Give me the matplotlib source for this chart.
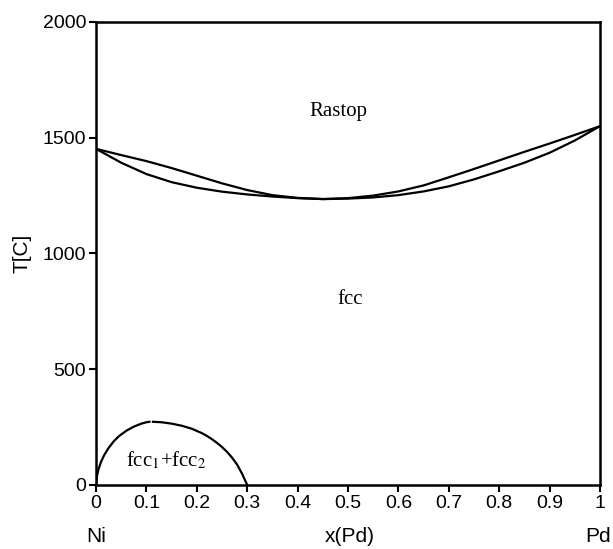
import matplotlib.pyplot as plt
import numpy as np

# phase boundaries
x_liq = [0, 0.05, 0.1, 0.15, 0.2, 0.25, 0.3, 0.35, 0.4, 0.45, 0.5,
         0.55, 0.6, 0.65, 0.7, 0.75, 0.8, 0.85, 0.9, 0.95, 1.0]
t_liq = [1452, 1425, 1399, 1369, 1336, 1303, 1274, 1252, 1240, 1235, 1239,
         1250, 1268, 1294, 1329, 1365, 1402, 1439, 1475, 1512, 1550]

x_sol = [0, 0.05, 0.1, 0.15, 0.2, 0.25, 0.3, 0.35, 0.4, 0.45, 0.5,
         0.55, 0.6, 0.65, 0.7, 0.75, 0.8, 0.85, 0.9, 0.95, 1.0]
t_sol = [1452, 1392, 1343, 1308, 1284, 1267, 1255, 1246, 1239, 1235, 1237,
         1242, 1252, 1268, 1290, 1320, 1355, 1392, 1435, 1488, 1550]

# miscibility gap, drawn in two halves
x_gap1 = [0, 0.002, 0.005, 0.01, 0.016, 0.025, 0.035, 0.045, 0.06, 0.075, 0.09, 0.1, 0.106]
t_gap1 = [0, 40, 68, 100, 128, 160, 188, 210, 234, 252, 265, 271, 273]
x_gap2 = [0.113, 0.13, 0.15, 0.17, 0.19, 0.21, 0.22, 0.23, 0.24, 0.25, 0.26,
          0.27, 0.28, 0.29, 0.3]
t_gap2 = [273, 271, 265, 256, 243, 224, 212, 198, 182, 164, 143,
          118, 88, 48, 0]

xticks = [0, 0.1, 0.2, 0.3, 0.4, 0.5, 0.6, 0.7, 0.8, 0.9, 1]
xticklabels = ['0', '0.1', '0.2', '0.3', '0.4', '0.5', '0.6', '0.7', '0.8', '0.9', '1']
yticks = [0, 500, 1000, 1500, 2000]

plt.rcParams['font.family'] = 'Liberation Sans'

fig = plt.figure(figsize=(6.13, 5.49), dpi=100)
ax = fig.add_axes([0.1566, 0.1166, 0.8222, 0.8434])

ax.plot(x_liq, t_liq, color='black', lw=1.6)
ax.plot(x_sol, t_sol, color='black', lw=1.6)
ax.plot(x_gap1, t_gap1, color='black', lw=1.6)
ax.plot(x_gap2, t_gap2, color='black', lw=1.6)

ax.set_xlim(0, 1)
ax.set_ylim(0, 2000)
ax.set_xticks(xticks)
ax.set_xticklabels(xticklabels)
ax.set_yticks(yticks)
ax.tick_params(axis='both', direction='out', length=5, width=1.5,
               labelsize=14, colors='black', pad=2)
for s in ax.spines.values():
    s.set_linewidth(1.8)

ax.set_ylabel('T[C]', fontsize=15, labelpad=8)

# phase labels
serif = 'Liberation Serif'
ax.text(0.48, 1615, 'Rastop', family=serif, fontsize=15, ha='center', va='center')
ax.text(0.505, 800, 'fcc', family=serif, fontsize=15, ha='center', va='center')
ax.text(0.14, 108, r'fcc$_1$+fcc$_2$', family=serif, fontsize=15,
        ha='center', va='center', math_fontfamily='stix')

# element names and composition axis label
fig.text(96 / 613, 1 - 537 / 549, 'Ni', fontsize=15, ha='center', va='center')
fig.text(350 / 613, 1 - 537 / 549, 'x(Pd)', fontsize=15, ha='center', va='center')
fig.text(598 / 613, 1 - 537 / 549, 'Pd', fontsize=15, ha='center', va='center')

fig.savefig('out.png', dpi=100)
